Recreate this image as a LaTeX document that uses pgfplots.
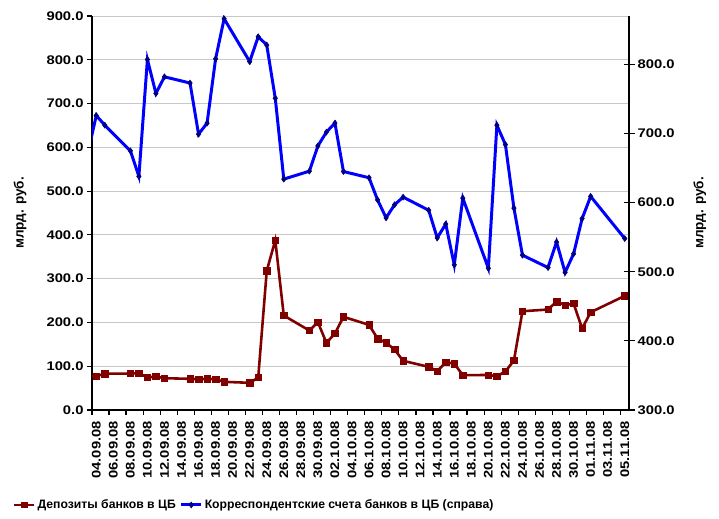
\documentclass[border=0pt]{standalone}
\usepackage{fontspec}
\setmainfont{Liberation Sans}
\newfontfamily\tickfam{Liberation Sans}[FakeStretch=1.18]
\usepackage{pgfplots}
\pgfplotsset{compat=1.18}
\definecolor{dred}{RGB}{128,0,0}
\definecolor{navyc}{RGB}{0,0,128}
\definecolor{bluec}{RGB}{0,0,255}
\definecolor{gridc}{RGB}{200,200,200}
\newcommand{\lbl}{\bfseries\fontsize{12.2bp}{15bp}\selectfont}
\newcommand{\tlbl}{\tickfam\bfseries\fontsize{12.5bp}{15bp}\selectfont}
\newcommand{\ylbl}{\bfseries\fontsize{13.5bp}{16bp}\selectfont}
\pgfplotsset{
  common/.style={
    at={(92bp,109bp)}, anchor=south west, scale only axis,
    width=537bp, height=394bp,
    xmin=-0.5, xmax=62.5,
    clip marker paths=true,
    axis line style={line width=1.4pt,-},
    tick style={line width=1.2pt, black},
    major tick length=5bp, minor tick length=5bp,
    /pgf/number format/assume math mode=true,
    tick label style={font=\tlbl},
    yticklabel style={/pgf/number format/fixed, /pgf/number format/fixed zerofill, /pgf/number format/precision=1},
    label style={font=\ylbl},
  }
}
\begin{document}
\begin{tikzpicture}[x=1bp,y=1bp]
\useasboundingbox (0,0) rectangle (719,519);
\begin{axis}[common,
  ymin=0, ymax=900, ytick={0,100,...,900},
  axis x line*=bottom, axis y line*=left,
  ytick align=outside, xtick align=outside,
  ymajorgrids, grid style={gridc, line width=0.8pt},
  xtick={-0.5,1.5,...,62.5}, xticklabels={},
  extra x ticks={0,2,...,62},
  extra x tick labels={04.09.08,06.09.08,08.09.08,10.09.08,12.09.08,14.09.08,16.09.08,18.09.08,20.09.08,22.09.08,24.09.08,26.09.08,28.09.08,30.09.08,02.10.08,04.10.08,06.10.08,08.10.08,10.10.08,12.10.08,14.10.08,16.10.08,18.10.08,20.10.08,22.10.08,24.10.08,26.10.08,28.10.08,30.10.08,01.11.08,03.11.08,05.11.08},
  extra x tick style={major tick length=0pt, grid=none},
  xticklabel style={rotate=90, anchor=east, inner sep=2bp},
  xticklabel shift=9bp,
  ylabel={млрд. руб.},
  ylabel style={at={(axis description cs:-0.134,0.5)}, anchor=center},
]
\addplot[dred, line width=2.6pt, mark=square*, mark size=3.2bp, mark options={fill=dred, draw=dred, line width=0.5pt}] coordinates {
(-1,77) (0,77) (1,83) (4,83.3) (5,84) (6,74.2) (7,76.5) (8,72.6) (11,71.2) (12,70.4) (13,71.2) (14,70.4) (15,64.3) (18,62.1) (19,74.2) (20,317.8) (21,387.7) (22,215.8)
(25,181.5) (26,200.5) (27,153.4) (28,174.7) (29,212.8) (32,194.5) (33,163.2) (34,153.4) (35,138.1) (36,112.3) (39,98.6) (40,88.6) (41,109) (42,106) (43,79.5)
(46,80) (47,77.2) (48,87.9) (49,113) (50,225.6) (53,229.5) (54,247.7) (55,239.3) (56,243.2) (57,186.1) (58,223.3) (62,260.7)
};
\end{axis}
\begin{axis}[common,
  ymin=300, ymax=870, ytick={300,400,...,800},
  axis x line=none, axis y line*=right,
  ytick align=center, major tick length=11bp,
  yticklabel style={inner sep=3bp},
  ylabel={млрд. руб.},
  ylabel style={at={(axis description cs:1.132,0.5)}, anchor=center},
  legend columns=2,
  legend style={at={(0.302,-0.241)}, anchor=center, draw=none, fill=none, font=\lbl,
    inner sep=0pt, /tikz/every even column/.append style={column sep=2bp}},
  legend cell align=left,
  legend image code/.code={\draw[mark repeat=2,mark phase=2,#1] plot coordinates {(0bp,0bp) (10bp,0bp) (20bp,0bp)};},
]
\addlegendimage{dred, line width=2.6pt, mark=square*, mark size=2.6bp, mark options={fill=dred, draw=dred, line width=0.5pt}}
\addlegendentry{Депозиты банков в ЦБ}
\addplot[bluec, line width=3pt, mark=diamond*, mark size=3bp, mark options={fill=navyc, draw=navyc, line width=0.5pt}] coordinates {
(-1,671) (0,726) (1,712) (4,675) (5,638) (6,807) (7,758) (8,782) (11,773) (12,699) (13,715) (14,808) (15,866) (18,804) (19,840) (20,828) (21,751) (22,634)
(25,645.5) (26,682) (27,702) (28,715) (29,645) (32,636) (33,604) (34,578) (35,597) (36,608) (39,589) (40,549) (41,569) (42,510) (43,606.5)
(46,505) (47,712) (48,684) (49,592) (50,524) (53,506) (54,543) (55,499) (56,526) (57,577) (58,609) (62,548)
};
\addlegendentry{Корреспондентские счета банков в ЦБ (справа)}
\end{axis}
\end{tikzpicture}
\end{document}
